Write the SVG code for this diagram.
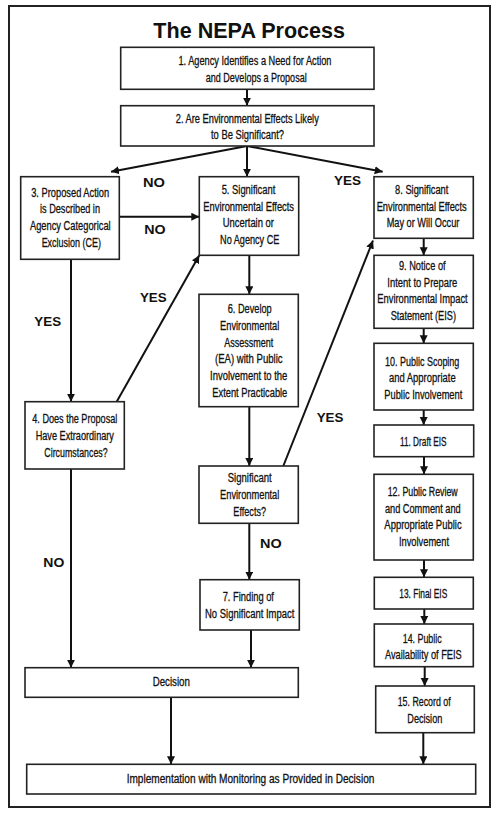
<svg xmlns="http://www.w3.org/2000/svg" width="500" height="815" viewBox="0 0 500 815">
<defs>
<marker id="ah" markerUnits="userSpaceOnUse" markerWidth="9" markerHeight="9" refX="8" refY="4" orient="auto">
<path d="M0,0 L8,4 L0,8 z" fill="#111"/>
</marker>
<style>
.box{fill:#fff;stroke:#222;stroke-width:1.6}
.t{font-family:"Liberation Sans",Arial,sans-serif;font-size:12.5px;fill:#111;stroke:#111;stroke-width:0.3;text-anchor:middle}
.lb{font-family:"Liberation Sans",Arial,sans-serif;font-size:12px;font-weight:bold;fill:#111;text-anchor:middle}
.ttl{font-family:"Liberation Sans",Arial,sans-serif;font-size:22px;font-weight:bold;fill:#111;text-anchor:middle}
.c{fill:none;stroke:#111;stroke-width:2;marker-end:url(#ah)}
</style>
</defs>
<rect x="0" y="0" width="500" height="815" fill="#fff"/>
<rect x="9" y="6" width="481" height="801" fill="none" stroke="#222" stroke-width="2"/>
<text class="ttl" x="249.2" y="38" textLength="191.7" lengthAdjust="spacingAndGlyphs">The NEPA Process</text>

<g id="connectors">
<line class="c" x1="247" y1="89.3" x2="247" y2="105.7"/>
<line class="c" x1="247" y1="146" x2="111" y2="171.7"/>
<line class="c" x1="247" y1="146" x2="247" y2="176.7"/>
<line class="c" x1="247" y1="146" x2="382.7" y2="171.7"/>
<line class="c" x1="119.3" y1="216.7" x2="199.3" y2="216.7"/>
<line class="c" x1="71" y1="259.3" x2="71" y2="401.7"/>
<line class="c" x1="116.7" y1="401.7" x2="199.3" y2="255.3"/>
<line class="c" x1="249.3" y1="255.3" x2="249.3" y2="294.3"/>
<line class="c" x1="249.3" y1="406.7" x2="249.3" y2="466"/>
<line class="c" x1="283.3" y1="466" x2="373" y2="240.5"/>
<line class="c" x1="249.3" y1="523.3" x2="249.3" y2="579.7"/>
<line class="c" x1="423.7" y1="238.3" x2="423.7" y2="255.3"/>
<line class="c" x1="423.7" y1="328.3" x2="423.7" y2="343.3"/>
<line class="c" x1="423.7" y1="410" x2="423.7" y2="425"/>
<line class="c" x1="424" y1="456.7" x2="424" y2="474.3"/>
<line class="c" x1="424" y1="560" x2="424" y2="577.3"/>
<line class="c" x1="424.3" y1="609" x2="424.3" y2="624"/>
<line class="c" x1="424.7" y1="666.7" x2="424.7" y2="686"/>
<line class="c" x1="423.3" y1="732.7" x2="423.3" y2="764.3"/>
<line class="c" x1="71" y1="469" x2="71" y2="667.7"/>
<line class="c" x1="251" y1="630" x2="251" y2="667.7"/>
<line class="c" x1="171" y1="697.3" x2="171" y2="764.3"/>
</g>

<g id="labels">
<text class="lb" x="154" y="186.7" textLength="22" lengthAdjust="spacingAndGlyphs">NO</text>
<text class="lb" x="347.5" y="185" textLength="27" lengthAdjust="spacingAndGlyphs">YES</text>
<text class="lb" x="155" y="234.3" textLength="21.4" lengthAdjust="spacingAndGlyphs">NO</text>
<text class="lb" x="47.7" y="326" textLength="26.7" lengthAdjust="spacingAndGlyphs">YES</text>
<text class="lb" x="153.3" y="302.3" textLength="26.7" lengthAdjust="spacingAndGlyphs">YES</text>
<text class="lb" x="330" y="421.7" textLength="26.7" lengthAdjust="spacingAndGlyphs">YES</text>
<text class="lb" x="270.8" y="548.3" textLength="21.7" lengthAdjust="spacingAndGlyphs">NO</text>
<text class="lb" x="53.8" y="566.7" textLength="21" lengthAdjust="spacingAndGlyphs">NO</text>
</g>

<g id="n1">
<rect class="box" x="120.7" y="47.3" width="253.3" height="42"/>
<text class="t" x="255" y="64.5" textLength="153" lengthAdjust="spacingAndGlyphs">1. Agency Identifies a Need for Action</text>
<text class="t" x="256.2" y="81.7" textLength="101" lengthAdjust="spacingAndGlyphs">and Develops a Proposal</text>
</g>
<g id="n2">
<rect class="box" x="120.7" y="105.7" width="253.3" height="40.3"/>
<text class="t" x="247.3" y="122.7" textLength="143" lengthAdjust="spacingAndGlyphs">2. Are Environmental Effects Likely</text>
<text class="t" x="247.5" y="139" textLength="73" lengthAdjust="spacingAndGlyphs">to Be Significant?</text>
</g>
<g id="n3">
<rect class="box" x="20.7" y="176.7" width="98.6" height="82.6"/>
<text class="t" x="70.2" y="196.7" textLength="78" lengthAdjust="spacingAndGlyphs">3. Proposed Action</text>
<text class="t" x="70" y="213.3" textLength="60" lengthAdjust="spacingAndGlyphs">is Described in</text>
<text class="t" x="70.3" y="230" textLength="80.7" lengthAdjust="spacingAndGlyphs">Agency Categorical</text>
<text class="t" x="71.3" y="246.7" textLength="59.3" lengthAdjust="spacingAndGlyphs">Exclusion (CE)</text>
</g>
<g id="n5">
<rect class="box" x="199.3" y="176.7" width="99.4" height="78.6"/>
<text class="t" x="248.5" y="194" textLength="53.7" lengthAdjust="spacingAndGlyphs">5. Significant</text>
<text class="t" x="248.7" y="210.7" textLength="90.7" lengthAdjust="spacingAndGlyphs">Environmental Effects</text>
<text class="t" x="248.3" y="227.3" textLength="51.3" lengthAdjust="spacingAndGlyphs">Uncertain or</text>
<text class="t" x="249.7" y="244" textLength="59.3" lengthAdjust="spacingAndGlyphs">No Agency CE</text>
</g>
<g id="n8">
<rect class="box" x="374" y="176.7" width="99.3" height="61.6"/>
<text class="t" x="421.7" y="194" textLength="53.3" lengthAdjust="spacingAndGlyphs">8. Significant</text>
<text class="t" x="421.7" y="210.7" textLength="90" lengthAdjust="spacingAndGlyphs">Environmental Effects</text>
<text class="t" x="423" y="227.3" textLength="72.7" lengthAdjust="spacingAndGlyphs">May or Will Occur</text>
</g>
<g id="n9">
<rect class="box" x="374" y="255.3" width="99.3" height="73"/>
<text class="t" x="422.3" y="270" textLength="46.7" lengthAdjust="spacingAndGlyphs">9. Notice of</text>
<text class="t" x="422.3" y="286.7" textLength="70" lengthAdjust="spacingAndGlyphs">Intent to Prepare</text>
<text class="t" x="422.5" y="303.3" textLength="90.3" lengthAdjust="spacingAndGlyphs">Environmental Impact</text>
<text class="t" x="423.3" y="320" textLength="65.3" lengthAdjust="spacingAndGlyphs">Statement (EIS)</text>
</g>
<g id="n4">
<rect class="box" x="25" y="401.7" width="99.3" height="67.3"/>
<text class="t" x="74.8" y="423.3" textLength="85" lengthAdjust="spacingAndGlyphs">4. Does the Proposal</text>
<text class="t" x="74.8" y="440" textLength="78.3" lengthAdjust="spacingAndGlyphs">Have Extraordinary</text>
<text class="t" x="76" y="456.7" textLength="63.3" lengthAdjust="spacingAndGlyphs">Circumstances?</text>
</g>
<g id="n6">
<rect class="box" x="199" y="294.3" width="99.3" height="112.4"/>
<text class="t" x="249.7" y="313.3" textLength="44" lengthAdjust="spacingAndGlyphs">6. Develop</text>
<text class="t" x="249.7" y="330" textLength="59.3" lengthAdjust="spacingAndGlyphs">Environmental</text>
<text class="t" x="248.8" y="346.7" textLength="49" lengthAdjust="spacingAndGlyphs">Assessment</text>
<text class="t" x="248.8" y="363.3" textLength="67.7" lengthAdjust="spacingAndGlyphs">(EA) with Public</text>
<text class="t" x="248.7" y="380" textLength="77.3" lengthAdjust="spacingAndGlyphs">Involvement to the</text>
<text class="t" x="249.8" y="396.7" textLength="75" lengthAdjust="spacingAndGlyphs">Extent Practicable</text>
</g>
<g id="nsig">
<rect class="box" x="199" y="466" width="99.3" height="57.3"/>
<text class="t" x="249.7" y="482.3" textLength="44" lengthAdjust="spacingAndGlyphs">Significant</text>
<text class="t" x="249.7" y="499" textLength="59.3" lengthAdjust="spacingAndGlyphs">Environmental</text>
<text class="t" x="249.7" y="515.7" textLength="32.7" lengthAdjust="spacingAndGlyphs">Effects?</text>
</g>
<g id="n10">
<rect class="box" x="374" y="343.3" width="99.3" height="66.7"/>
<text class="t" x="422.2" y="365.7" textLength="74.3" lengthAdjust="spacingAndGlyphs">10. Public Scoping</text>
<text class="t" x="422.3" y="382.3" textLength="66.7" lengthAdjust="spacingAndGlyphs">and Appropriate</text>
<text class="t" x="423.3" y="399" textLength="78" lengthAdjust="spacingAndGlyphs">Public Involvement</text>
</g>
<g id="n11">
<rect class="box" x="374" y="425" width="99.7" height="31.7"/>
<text class="t" x="423.3" y="446" textLength="46.7" lengthAdjust="spacingAndGlyphs">11. Draft EIS</text>
</g>
<g id="n12">
<rect class="box" x="374" y="474.3" width="99.3" height="85.7"/>
<text class="t" x="422.7" y="496" textLength="70" lengthAdjust="spacingAndGlyphs">12. Public Review</text>
<text class="t" x="422.8" y="512.7" textLength="75.7" lengthAdjust="spacingAndGlyphs">and Comment and</text>
<text class="t" x="423" y="529.3" textLength="77.3" lengthAdjust="spacingAndGlyphs">Appropriate Public</text>
<text class="t" x="424" y="546" textLength="50" lengthAdjust="spacingAndGlyphs">Involvement</text>
</g>
<g id="n13">
<rect class="box" x="374.3" y="577.3" width="99" height="31.7"/>
<text class="t" x="423.3" y="598.3" textLength="48" lengthAdjust="spacingAndGlyphs">13. Final EIS</text>
</g>
<g id="n14">
<rect class="box" x="374.3" y="624" width="99" height="42.7"/>
<text class="t" x="422.2" y="642.7" textLength="39" lengthAdjust="spacingAndGlyphs">14. Public</text>
<text class="t" x="423.3" y="659.3" textLength="76.7" lengthAdjust="spacingAndGlyphs">Availability of FEIS</text>
</g>
<g id="n15">
<rect class="box" x="375.7" y="686" width="98.6" height="46.7"/>
<text class="t" x="424.2" y="706" textLength="53" lengthAdjust="spacingAndGlyphs">15. Record of</text>
<text class="t" x="424.8" y="722.7" textLength="35" lengthAdjust="spacingAndGlyphs">Decision</text>
</g>
<g id="n7">
<rect class="box" x="200" y="579.7" width="99.3" height="50.3"/>
<text class="t" x="248.3" y="601" textLength="51.3" lengthAdjust="spacingAndGlyphs">7. Finding of</text>
<text class="t" x="249.7" y="617.7" textLength="89.3" lengthAdjust="spacingAndGlyphs">No Significant Impact</text>
</g>
<g id="ndecision">
<rect class="box" x="25" y="667.7" width="273.3" height="29.6"/>
<text class="t" x="171.3" y="685.7" textLength="37.3" lengthAdjust="spacingAndGlyphs">Decision</text>
</g>
<g id="nimpl">
<rect class="box" x="26.7" y="764.3" width="449" height="29.7"/>
<text class="t" x="250.5" y="782.7" textLength="247.7" lengthAdjust="spacingAndGlyphs">Implementation with Monitoring as Provided in Decision</text>
</g>
</svg>
